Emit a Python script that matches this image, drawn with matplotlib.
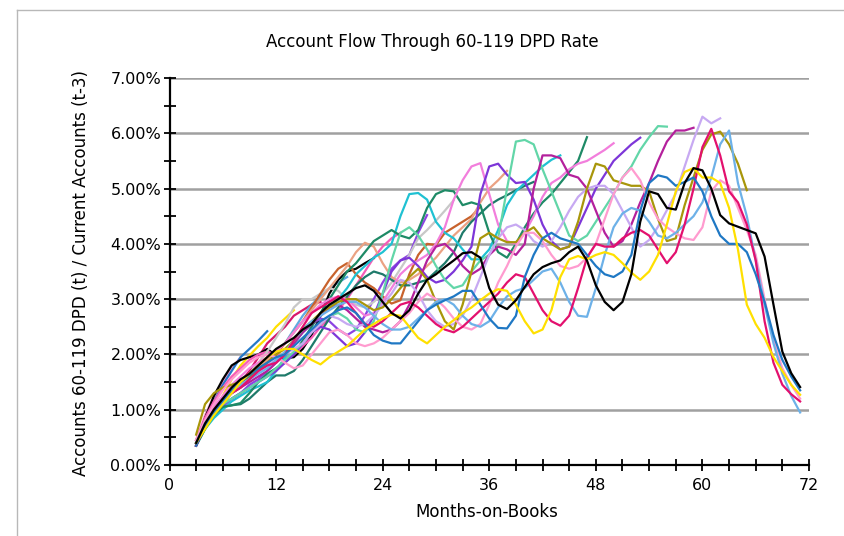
import numpy as np
import matplotlib
matplotlib.use("Agg")
import matplotlib.pyplot as plt
from matplotlib.lines import Line2D

plt.rcParams['font.family'] = ['DejaVu Sans']

# ---------------- data (rate in %, monthly from month-on-books 3) ----------------
START_MONTH = 3

black_long = [0.40,0.75,1.00,1.20,1.40,1.55,1.65,1.80,1.95,2.10,
              2.20,2.30,2.45,2.55,2.75,2.90,3.00,3.10,3.20,3.25,
              3.15,2.95,2.75,2.65,2.80,3.10,3.35,3.45,3.58,3.70,
              3.83,3.85,3.75,3.20,2.90,2.82,2.98,3.22,3.45,3.58,
              3.65,3.70,3.85,3.95,3.70,3.25,2.95,2.80,2.95,3.45,
              4.40,4.95,4.90,4.65,4.62,5.10,5.37,5.33,5.00,4.52,
              4.37,4.31,4.25,4.19,3.77,2.90,2.05,1.66,1.41]
yellow_long = [0.40,0.65,0.90,1.10,1.30,1.50,1.65,1.80,1.95,2.05,
               2.10,2.10,2.00,1.90,1.82,1.95,2.05,2.15,2.30,2.45,
               2.55,2.65,2.72,2.70,2.50,2.30,2.20,2.35,2.50,2.62,
               2.75,2.85,2.98,3.10,3.18,3.15,2.90,2.60,2.38,2.45,
               2.80,3.40,3.72,3.78,3.72,3.80,3.85,3.80,3.65,3.48,
               3.35,3.50,3.80,4.35,4.95,5.30,5.37,5.20,5.20,5.10,
               4.65,3.90,2.90,2.55,2.30,1.95,1.70,1.45,1.27]
blue_long = [0.35,0.70,0.95,1.15,1.35,1.50,1.62,1.75,1.85,1.95,
             2.00,2.15,2.30,2.45,2.60,2.70,2.80,2.85,2.75,2.55,
             2.35,2.25,2.20,2.20,2.40,2.60,2.80,2.90,2.98,3.05,
             3.15,3.15,2.90,2.65,2.48,2.47,2.70,3.40,3.80,4.10,
             4.20,4.10,4.05,4.00,3.80,3.60,3.45,3.40,3.50,3.80,
             4.60,5.10,5.24,5.20,5.05,5.12,5.20,4.95,4.50,4.15,
             4.00,4.00,3.85,3.45,2.95,2.35,1.90,1.60,1.35]
crimson_long = [0.35,0.70,1.00,1.20,1.30,1.40,1.55,1.70,1.80,1.85,
                2.00,2.25,2.50,2.75,2.85,2.95,3.05,2.95,2.75,2.55,
                2.50,2.60,2.75,2.90,2.95,2.85,2.70,2.55,2.45,2.40,
                2.50,2.65,2.80,2.95,3.10,3.30,3.45,3.40,3.10,2.80,
                2.60,2.52,2.70,3.20,3.75,4.00,3.95,3.95,4.10,4.20,
                4.25,4.15,3.90,3.65,3.85,4.35,5.00,5.75,6.08,5.60,
                4.95,4.75,4.35,3.70,2.60,1.85,1.45,1.28,1.15]
pink_long = [0.45,0.80,1.10,1.35,1.55,1.70,1.85,1.95,2.00,1.95,
             1.85,1.75,1.80,2.00,2.20,2.40,2.45,2.35,2.20,2.15,
             2.20,2.30,2.45,2.60,2.75,2.95,3.10,3.00,2.85,2.65,
             2.50,2.45,2.55,2.90,3.30,3.60,3.95,4.20,4.20,4.05,
             3.80,3.60,3.55,3.60,3.75,4.00,4.45,4.90,5.20,5.37,
             5.15,4.75,4.45,4.30,4.19,4.10,4.07,4.30,4.95,5.15,
             5.05,4.65,4.25,3.80,3.00,2.25,1.75,1.45,1.20]
lightblue_long = [0.40,0.75,1.00,1.20,1.35,1.45,1.55,1.65,1.75,1.90,
                  2.05,2.25,2.45,2.60,2.70,2.80,2.90,2.95,2.95,2.85,
                  2.70,2.55,2.45,2.45,2.50,2.65,2.80,2.95,3.00,2.90,
                  2.70,2.55,2.50,2.60,2.85,3.05,3.15,3.20,3.35,3.50,
                  3.55,3.30,2.95,2.70,2.68,3.20,3.80,4.30,4.55,4.65,
                  4.60,4.40,4.15,4.10,4.20,4.35,4.50,4.75,5.20,5.80,
                  6.05,5.10,4.50,3.70,2.90,2.20,1.65,1.25,0.95]
olive = [0.55,1.10,1.30,1.40,1.45,1.50,1.60,1.72,1.85,2.00,
         2.10,2.25,2.45,2.60,2.75,2.85,2.95,3.00,3.00,2.90,
         2.80,2.85,3.00,3.20,3.40,3.55,3.35,2.95,2.60,2.45,
         2.90,3.50,4.10,4.20,4.10,4.03,4.03,4.20,4.30,4.10,
         4.00,3.90,3.95,4.40,5.00,5.45,5.40,5.15,5.10,5.05,
         5.05,4.95,4.45,4.05,4.10,4.70,5.20,5.70,5.98,6.03,
         5.80,5.45,4.97]
lavender = [0.40,0.70,0.95,1.15,1.30,1.45,1.60,1.70,1.80,1.90,
            2.00,2.10,2.20,2.40,2.55,2.70,2.65,2.55,2.50,2.55,
            2.70,2.90,3.10,3.35,3.30,3.10,2.80,2.60,2.50,2.55,
            2.70,3.00,3.40,3.80,4.10,4.30,4.35,4.25,4.05,3.95,
            4.05,4.30,4.60,4.85,5.00,5.05,5.05,4.90,4.60,4.30,
            3.95,4.07,4.31,4.61,4.91,5.40,5.88,6.30,6.18,6.27]
plum = [0.35,0.70,0.95,1.15,1.30,1.40,1.50,1.60,1.70,1.85,
        2.00,2.20,2.40,2.55,2.70,2.85,2.90,2.80,2.65,2.50,
        2.45,2.40,2.45,2.60,2.90,3.30,3.70,3.95,4.00,3.85,
        3.60,3.45,3.55,3.80,3.95,3.90,3.80,4.00,5.00,5.60,
        5.60,5.55,5.25,5.20,5.00,4.60,4.20,3.95,4.05,4.35,
        4.75,5.10,5.50,5.85,6.05,6.05,6.10]
mint = [0.40,0.70,0.95,1.10,1.20,1.30,1.40,1.50,1.60,1.75,
        1.90,2.05,2.20,2.40,2.55,2.70,2.75,2.65,2.45,2.40,
        2.60,3.10,3.70,4.20,4.30,4.15,3.90,3.60,3.35,3.20,
        3.25,3.50,3.70,3.80,4.10,5.00,5.85,5.88,5.80,5.35,
        4.95,4.55,4.15,4.05,4.15,4.40,4.65,4.90,5.20,5.40,
        5.70,5.93,6.13,6.12]
violet = [0.40,0.75,0.95,1.10,1.20,1.30,1.40,1.50,1.60,1.70,
          1.85,2.00,2.20,2.40,2.50,2.45,2.30,2.15,2.20,2.40,
          2.70,3.10,3.50,3.70,3.75,3.60,3.40,3.30,3.35,3.50,
          3.70,3.95,4.90,5.40,5.45,5.25,5.10,5.12,4.80,4.35,
          4.05,3.90,3.95,4.30,4.65,5.00,5.25,5.50,5.65,5.80,
          5.92]
orchid = [0.45,0.80,1.05,1.25,1.45,1.60,1.75,1.85,1.95,2.05,
          2.20,2.40,2.60,2.75,2.90,3.00,3.05,3.00,2.85,2.70,
          2.75,2.95,3.20,3.45,3.60,3.70,3.80,4.00,4.30,4.80,
          5.15,5.40,5.46,4.90,4.35,4.05,4.00,4.20,4.50,4.85,
          5.10,5.20,5.35,5.45,5.50,5.60,5.70,5.82]
darkgreen = [0.35,0.65,0.90,1.05,1.08,1.12,1.30,1.50,1.65,1.75,
             1.85,2.00,2.25,2.50,2.75,3.00,3.25,3.50,3.65,3.85,
             4.05,4.15,4.25,4.15,4.10,4.25,4.65,4.90,4.97,4.95,
             4.70,4.75,4.70,4.20,3.85,3.75,4.00,4.30,4.55,4.75,
             4.90,5.10,5.30,5.50,5.93]
cyan = [0.35,0.65,0.85,1.00,1.15,1.25,1.35,1.42,1.50,1.70,
        1.95,2.20,2.40,2.55,2.70,2.85,3.00,3.20,3.45,3.60,
        3.75,3.85,4.00,4.50,4.90,4.92,4.80,4.40,4.20,4.10,
        3.90,3.72,3.72,3.90,4.25,4.70,4.95,5.10,5.25,5.40,
        5.52,5.60]
teal = [0.40,0.70,0.95,1.05,1.08,1.10,1.20,1.35,1.50,1.62,
        1.62,1.70,1.90,2.15,2.40,2.65,2.85,3.05,3.25,3.40,
        3.50,3.45,3.35,3.25,3.25,3.30,3.35,3.50,3.65,3.85,
        4.20,4.40,4.55,4.70,4.80,4.88,4.97,5.05,5.12]
salmon = [0.45,0.80,1.00,1.15,1.30,1.45,1.60,1.75,1.90,2.05,
          2.20,2.40,2.60,2.80,3.00,3.20,3.40,3.60,3.85,4.02,
          3.95,3.65,3.40,3.30,3.35,3.45,3.60,3.75,3.95,4.15,
          4.30,4.45,4.75,5.00,5.15,5.32]
brown = [0.40,0.75,1.05,1.20,1.30,1.40,1.55,1.70,1.85,2.00,
         2.20,2.40,2.60,2.85,3.10,3.35,3.55,3.65,3.45,3.30,
         3.20,3.05,2.92,2.98,3.45,3.80,4.00,3.98,4.20,4.30,
         4.40,4.50,4.67]
gray = [0.40,0.75,1.00,1.20,1.35,1.50,1.65,1.85,2.05,2.30,
        2.55,2.85,3.00,3.00,3.10,3.20,3.15,3.00,2.90,2.85,
        2.95,3.10,3.30,3.55,3.80,4.10,4.25,4.42,4.60,4.79]
violet2 = [0.40,0.70,0.90,1.05,1.20,1.30,1.45,1.55,1.70,1.85,
           2.00,2.20,2.40,2.55,2.65,2.60,2.45,2.35,2.45,2.70,
           3.00,3.30,3.55,3.70,3.80,4.20,4.52]
pink2 = [0.45,0.85,1.15,1.40,1.60,1.75,1.90,2.00,2.05,2.00,
         1.95,2.00,2.15,2.30,2.50,2.65,2.80,3.00,3.25,3.50,
         3.75,3.95,4.10,4.20]
black_short = [0.35,0.85,1.25,1.55,1.80,1.90,1.95,2.00,2.10,1.98,
               1.93,1.95,2.10,2.35,2.70,3.10,3.35,3.50,3.55,3.65,
               3.74]
lightblue2 = [0.40,0.70,0.90,1.10,1.30,1.45,1.60,1.75,1.90,2.05,
              2.20,2.45,2.70,2.90,3.05,3.20,3.30,3.40]
crimson2 = [0.35,0.70,1.00,1.20,1.35,1.50,1.70,1.95,2.20,2.35,
            2.50,2.70,2.80,2.90,2.95]
yellow2 = [0.40,0.65,0.95,1.25,1.55,1.80,1.98,2.15,2.30,2.50,
           2.65,2.80]
blue2 = [0.35,0.80,1.15,1.45,1.70,1.95,2.10,2.25,2.42]
pink3 = [0.45,0.90,1.25,1.50,1.75,1.95]

x_major = [0, 12, 24, 36, 48, 60, 72]
y_major = [0, 1, 2, 3, 4, 5, 6, 7]

# drawing order: shortest vintages first
series = [
    (pink3, '#FF9BCF'), (blue2, '#2479C8'), (yellow2, '#FFE000'),
    (crimson2, '#D8186A'), (lightblue2, '#5FA8E2'), (black_short, '#000000'),
    (pink2, '#F65CB8'), (violet2, '#8C44E2'), (gray, '#C8C8C8'),
    (brown, '#C8622C'), (salmon, '#EBA283'), (teal, '#1E7A6A'),
    (cyan, '#1FC1D2'), (darkgreen, '#1E8A66'), (orchid, '#F27EDC'),
    (violet, '#7D36D8'), (mint, '#62D6A8'), (plum, '#B4209C'),
    (lavender, '#C7A9F2'), (olive, '#A8960A'),
    (pink_long, '#FF9BCF'), (lightblue_long, '#6DB1E8'),
    (crimson_long, '#E3106E'), (blue_long, '#1F78C4'),
    (yellow_long, '#FFE000'), (black_long, '#000000'),
]

W, H = 844, 536
fig = plt.figure(figsize=(W / 100, H / 100), dpi=100)
ax = fig.add_axes([169.5 / W, 1 - 465 / H, (809 - 169.5) / W, (465 - 78) / H])

for vals, col in series:
    xs = np.arange(START_MONTH, START_MONTH + len(vals))
    ax.plot(xs, vals, color=col, lw=1.6, solid_joinstyle='round', zorder=3)

ax.set_xlim(0, 72)
ax.set_ylim(0, 7)
ax.set_xticks(x_major)
ax.set_xticks(np.arange(0, 73, 3), minor=True)
ax.set_yticks(y_major)
ax.set_yticks(np.arange(0, 7.01, 0.5), minor=True)
ax.set_xticklabels([str(v) for v in x_major])
ax.set_yticklabels([f"{v:.2f}%" for v in y_major])
ax.tick_params(which='both', direction='inout', length=8, width=1.3, color='black',
               labelsize=11.5, pad=2)
ax.tick_params(axis='x', pad=5)

ax.yaxis.grid(True, which='major', color='#A0A0A0', lw=1.8, zorder=1)
ax.set_axisbelow(True)
for s in ['top', 'right']:
    ax.spines[s].set_visible(False)
for s in ['left', 'bottom']:
    ax.spines[s].set_color('black')
    ax.spines[s].set_linewidth(1.6)
    ax.spines[s].set_zorder(4)

fig.text(432 / W, 1 - 42 / H, "Account Flow Through 60-119 DPD Rate",
         ha='center', va='center', fontsize=12)
fig.text(81 / W, 1 - 273 / H, "Accounts 60-119 DPD (t) / Current Accounts (t-3)",
         ha='center', va='center', rotation=90, fontsize=12)
fig.text(487 / W, 1 - 512 / H, "Months-on-Books",
         ha='center', va='center', fontsize=12)

# light frame around the chart area
fig.add_artist(Line2D([16.5 / W, 16.5 / W], [0, 1 - 10 / H], color='#B8B8B8', lw=1.0))
fig.add_artist(Line2D([16.5 / W, 1], [1 - 10 / H, 1 - 10 / H], color='#B8B8B8', lw=1.0))

fig.savefig("out.png", dpi=100)
